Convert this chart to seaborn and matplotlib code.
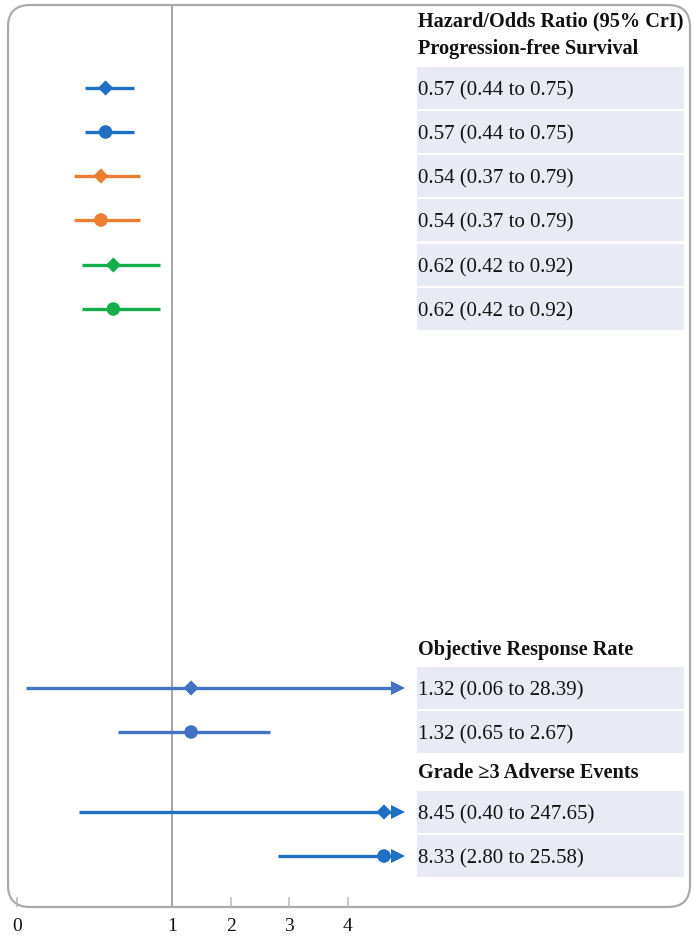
import numpy as np
import pandas as pd
import matplotlib
matplotlib.use("Agg")
import matplotlib.pyplot as plt
import seaborn as sns
from matplotlib.patches import FancyBboxPatch, Rectangle

# ---------------- data ----------------
outcomes = ["Progression-free Survival"] * 6 + ["Objective Response Rate"] * 2 + ["Grade \u22653 Adverse Events"] * 2
estimate = [0.57, 0.57, 0.54, 0.54, 0.62, 0.62, 1.32, 1.32, 8.45, 8.33]
lower = [0.44, 0.44, 0.37, 0.37, 0.42, 0.42, 0.06, 0.65, 0.40, 2.80]
upper = [0.75, 0.75, 0.79, 0.79, 0.92, 0.92, 28.39, 2.67, 247.65, 25.58]
series = ["s1", "s1", "s2", "s2", "s3", "s3", "s4", "s4", "s5", "s5"]
shape = ["diamond", "circle"] * 5
x_ticks = [0, 1, 2, 3, 4]
title = "Hazard/Odds Ratio (95% CrI)"
section_headers = ["Progression-free Survival", "Objective Response Rate", "Grade \u22653 Adverse Events"]

# ---------------- style ----------------
palette = {"s1": "#1F6FC4", "s2": "#ED7D31", "s3": "#16AE4A", "s4": "#4472C4", "s5": "#1F6FC4"}
row_y = [88, 132, 176, 220, 265, 309, 688, 732, 812, 856]       # pixel rows
header_y = [49, 650, 773]
title_y = 21
XMAX = 4.98
ARROW_X = 4.86
MARK_CLIP = 4.62

sns.set_theme(style="white")
plt.rcParams["font.family"] = ["Liberation Serif", "DejaVu Serif"]

W, H = 694, 936
fig = plt.figure(figsize=(W / 100, H / 100), dpi=100)

# background overlay in pixel coordinates
bg = fig.add_axes([0, 0, 1, 1])
bg.set_xlim(0, W)
bg.set_ylim(H, 0)
bg.axis("off")

box = FancyBboxPatch((8, 5), 682, 902, boxstyle="round,pad=0,rounding_size=22",
                     facecolor="white", edgecolor="#ABABAB", linewidth=1.6, zorder=0)
bg.add_patch(box)

cell_fill = "#E9EBF4"
for y in row_y:
    bg.add_patch(Rectangle((417, y - 21), 267, 42, facecolor=cell_fill, edgecolor="none", zorder=1))

txt_kw = dict(family=["Liberation Serif", "DejaVu Serif"], color="#111111", va="center", ha="left")
bg.text(418, title_y, title, fontsize=14.6, fontweight="bold", **txt_kw)
for hy, ht in zip(header_y, section_headers):
    bg.text(418, hy, ht, fontsize=14.6, fontweight="bold", **txt_kw)
for y, e, lo, hi in zip(row_y, estimate, lower, upper):
    bg.text(418, y + 3, f"{e:.2f} ({lo:.2f} to {hi:.2f})", fontsize=15, zorder=3, **txt_kw)

# ---------------- forest axes ----------------
left_px, right_px = 17, 405
top_px, bottom_px = 5, 907
ax = fig.add_axes([left_px / W, (H - bottom_px) / H, (right_px - left_px) / W, (bottom_px - top_px) / H])
ax.patch.set_alpha(0)

K = 155.0 / 58.3


def fwd(x):
    x = np.asarray(x, dtype=float)
    return np.where(x <= 1, x * K, K + (x - 1))


def inv(y):
    y = np.asarray(y, dtype=float)
    return np.where(y <= K, y / K, y - K + 1)


ax.set_xscale("function", functions=(fwd, inv))
ax.set_xlim(0, XMAX)
ax.set_ylim(bottom_px, top_px)

df = pd.DataFrame({"outcome": outcomes, "est": estimate, "lo": lower, "hi": upper,
                   "series": series, "shape": shape, "y": row_y})
df["est_plot"] = np.minimum(df["est"], MARK_CLIP)
df["hi_plot"] = np.minimum(df["hi"], ARROW_X)

ax.axvline(1, color="#A6A6A6", lw=1.5, zorder=1)

for _, r in df.iterrows():
    ax.hlines(r["y"], r["lo"], r["hi_plot"], color=palette[r["series"]], lw=2.4, zorder=2)
    if r["hi"] > XMAX:
        ax.plot([ARROW_X], [r["y"]], marker=">", ms=10, color=palette[r["series"]],
                markeredgewidth=0, zorder=3)

sns.scatterplot(data=df, x="est_plot", y="y", hue="series", style="shape", palette=palette,
                markers={"diamond": "D", "circle": "o"}, size="shape",
                sizes={"diamond": 60, "circle": 95}, linewidth=0, legend=False, ax=ax, zorder=4)

ax.set_xticks(x_ticks)
ax.set_xticklabels([str(t) for t in x_ticks])
ax.set_yticks([])
ax.set_xlabel("")
ax.set_ylabel("")
for s in ax.spines.values():
    s.set_visible(False)
ax.tick_params(axis="x", direction="in", length=7, width=1.1, color="#BBBBBB",
               pad=8, labelsize=14, labelcolor="#111111", bottom=True)

fig.savefig("out.png", dpi=100)
